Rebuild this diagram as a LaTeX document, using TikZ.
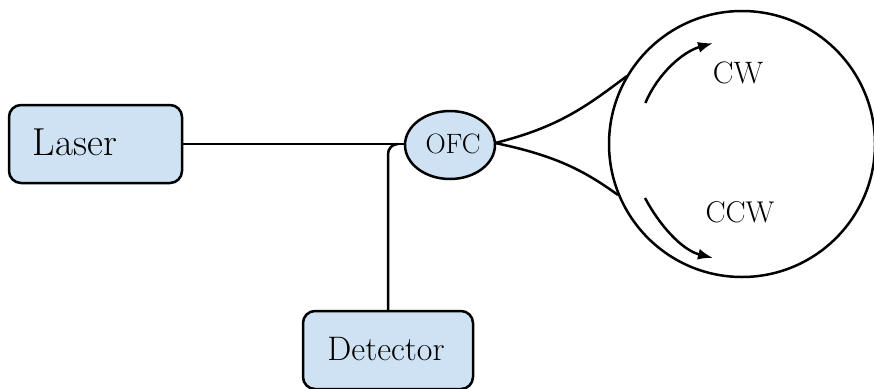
\documentclass[tikz,border=0pt]{standalone}
\usepackage{fontspec}
\usetikzlibrary{arrows.meta,calc,shapes.geometric}
\definecolor{boxblue}{HTML}{CFE2F3}
\begin{document}
\begin{tikzpicture}[x=1pt,y=-1pt,
  line width=2.5pt,
  rbox/.style={draw=black,fill=boxblue,rounded corners=12pt,inner sep=0pt},
  flow/.style={-{Latex[length=15pt,width=11pt]}, line width=2.5pt},
  lbl/.style={anchor=base,inner sep=0pt}]
\useasboundingbox (0,0) rectangle (874,388);
% boxes
\node[rbox,minimum width=173pt,minimum height=78pt] (laser) at (95.5,144) {};
\node[lbl,font=\fontsize{39}{42}\selectfont] (lasertxt) at (75,155) {Laser};
\node[rbox,minimum width=170pt,minimum height=78pt] (det) at (388,350) {};
\node[lbl,font=\fontsize{34}{38}\selectfont] (dettxt) at (386,360) {Detector};
\node[draw=black,fill=boxblue,ellipse,minimum width=90pt,minimum height=68pt,inner sep=0pt] (ofc) at (450,145) {};
\node[lbl,font=\fontsize{28}{32}\selectfont] (ofctxt) at (453,153) {OFC};
% loop
\node[draw=black,circle,minimum size=266pt,inner sep=0pt] (loop) at (742,144) {};
\coordinate (up) at (627,76);
\coordinate (lo) at (618,195);
\coordinate (ofcr) at (495,143);
\draw (laser.east) -- (ofc.west |- laser.east);
\draw[rounded corners=10pt] (det.north) |- ($(ofc.west |- laser.east)+(-8,0)$);
\draw (ofcr) .. controls (560,127) and (588,105) .. (up);
\draw (ofcr) .. controls (558,156) and (586,172) .. (lo);
% arrows
\draw[flow] ($(loop.center)+(-157:105)$) arc[start angle=-157,end angle=-106,radius=105];
\draw[flow] (645,198) .. controls (660,226) and (682,250) .. (713,258);
\node[lbl,font=\fontsize{31}{34}\selectfont] (cw) at (738,83) {CW};
\node[lbl,font=\fontsize{30}{34}\selectfont] (ccw) at (740,222) {CCW};
\end{tikzpicture}
\end{document}
